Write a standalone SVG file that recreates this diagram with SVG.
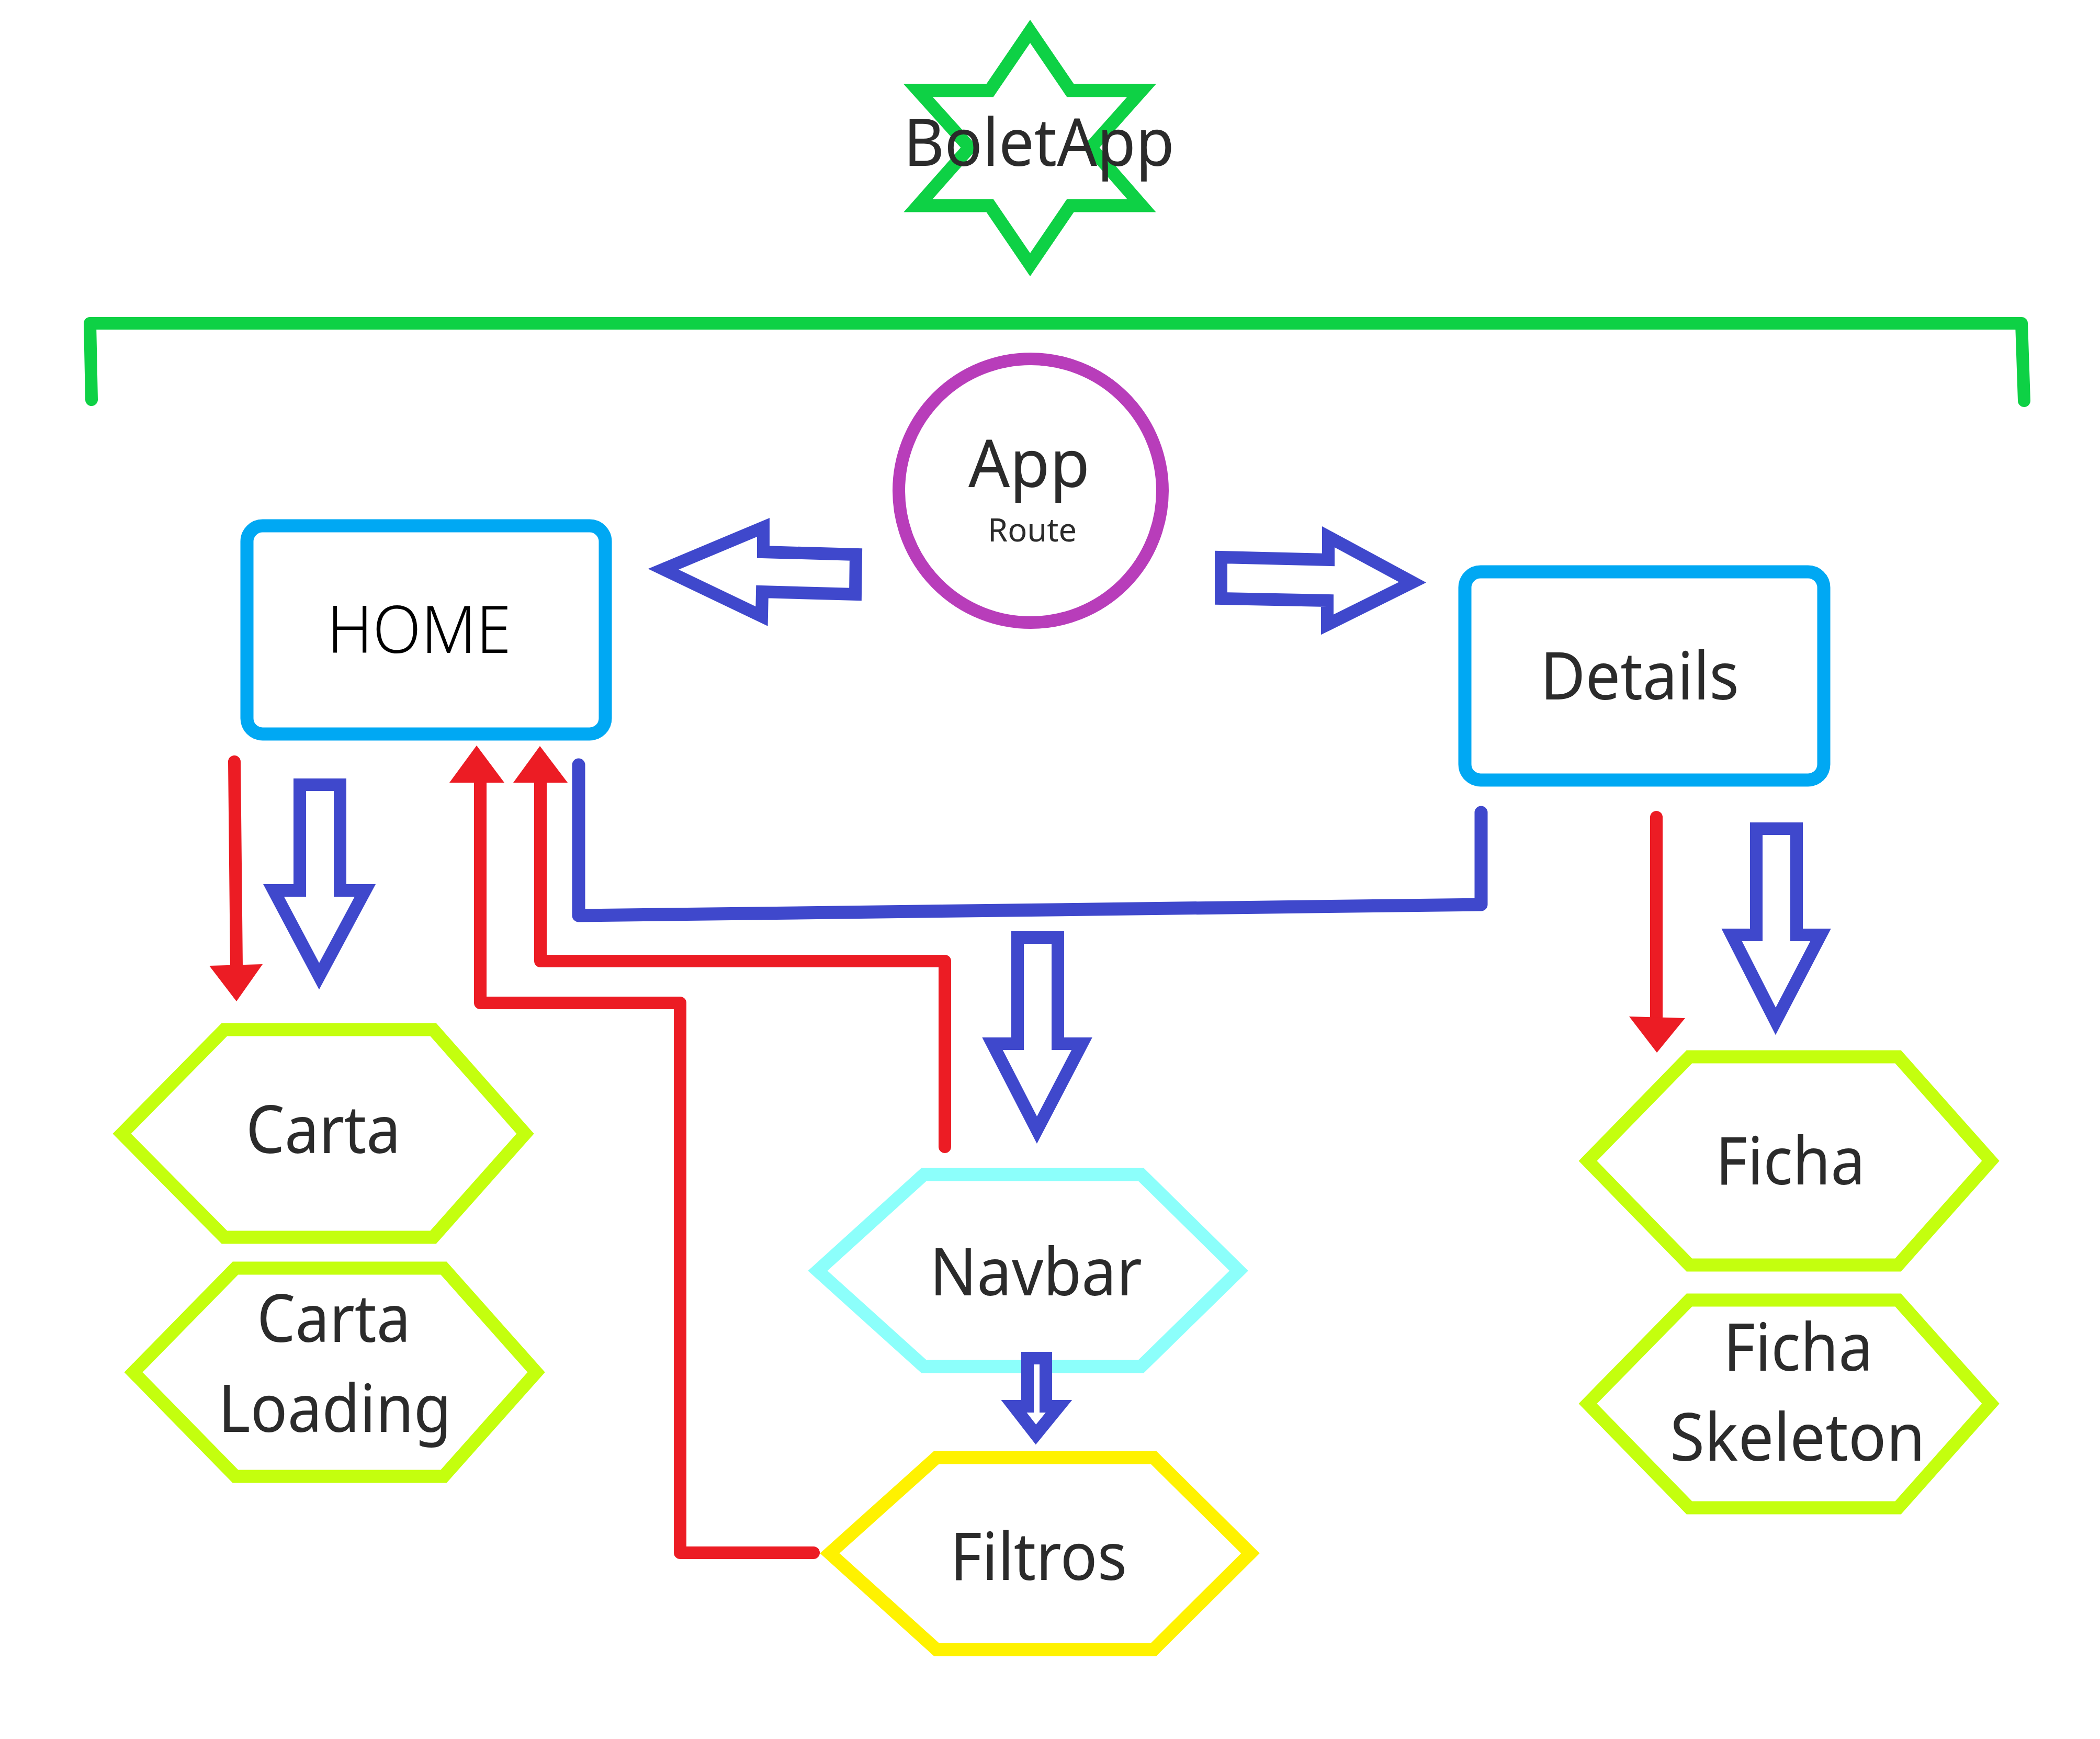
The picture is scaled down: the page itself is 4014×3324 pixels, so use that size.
<svg xmlns="http://www.w3.org/2000/svg" width="4014" height="3324" viewBox="0 0 4014 3324">
<style>
text{font-family:"Noto Sans","Open Sans","Liberation Sans",sans-serif;fill:#2b2b2b;text-anchor:middle}
.big{font-size:126px}
.small{font-size:62px}
.home{fill:#000;font-weight:300}
.box{fill:#fff;stroke:#00a8f3;stroke-width:25}
.hex{fill:#fff;stroke:#c4ff0e;stroke-width:25;stroke-linejoin:miter;stroke-miterlimit:10}
.blk{fill:#fff;stroke:#3f48cc;stroke-width:24;stroke-linejoin:miter;stroke-miterlimit:10}
.red{fill:none;stroke:#ec1c24;stroke-width:24;stroke-linejoin:round;stroke-linecap:round}
.redh{fill:#ec1c24}
.bline{fill:none;stroke:#3f48cc;stroke-width:25;stroke-linejoin:round;stroke-linecap:round}
</style>
<rect width="4014" height="3324" fill="#fff"/>

<g id="boletapp">
<polygon points="1969,60 2046,173 2182,173 2085,282 2182,393 2046,393 1969,506 1892,393 1755,393 1853,282 1755,173 1892,173" fill="#fff" stroke="#0ed145" stroke-width="25" stroke-miterlimit="10"/>
<text class="big" x="1986" y="317" font-size="128" textLength="518" lengthAdjust="spacingAndGlyphs">BoletApp</text>
</g>

<g id="bracket">
<path d="M175,764 L172,618 L3864,618 L3869,766" fill="none" stroke="#0ed145" stroke-width="24" stroke-linecap="round" stroke-linejoin="round"/>
</g>

<g id="app">
<circle cx="1970" cy="938" r="252" fill="#fff" stroke="#b83dba" stroke-width="24"/>
<text class="big" x="1967" y="931" textLength="232" lengthAdjust="spacingAndGlyphs">App</text>
<text class="small" x="1973" y="1035" textLength="170" lengthAdjust="spacingAndGlyphs">Route</text>
</g>

<g id="home">
<rect class="box" x="472" y="1005" width="685" height="398" rx="30"/>
<text class="big home" x="801" y="1248" font-size="122" textLength="352" lengthAdjust="spacingAndGlyphs">HOME</text>
</g>

<g id="details">
<rect class="box" x="2800" y="1093" width="686" height="398" rx="30"/>
<text class="big" x="3134" y="1337" textLength="380" lengthAdjust="spacingAndGlyphs">Details</text>
</g>

<g id="carta">
<polygon class="hex" points="233,2167 429,1968 828,1968 1004,2167 828,2365 429,2365"/>
<text class="big" x="618" y="2204" textLength="296" lengthAdjust="spacingAndGlyphs">Carta</text>
</g>

<g id="carta-loading">
<polygon class="hex" points="255,2623 450,2424 848,2424 1025,2623 848,2822 450,2822"/>
<text class="big" x="638" y="2565" textLength="294" lengthAdjust="spacingAndGlyphs">Carta</text>
<text class="big" x="640" y="2737" textLength="446" lengthAdjust="spacingAndGlyphs">Loading</text>
</g>

<g id="navbar">
<polygon class="hex" style="stroke:#8cfffb" points="1563,2429 1766,2245 2181,2245 2368,2429 2181,2612 1766,2612"/>
<text class="big" x="1980" y="2476" textLength="406" lengthAdjust="spacingAndGlyphs">Navbar</text>
</g>

<g id="filtros">
<polygon class="hex" style="stroke:#fff200" points="1586,2969 1790,2786 2205,2786 2390,2969 2205,3153 1790,3153"/>
<text class="big" x="1985" y="3020" textLength="338" lengthAdjust="spacingAndGlyphs">Filtros</text>
</g>

<g id="ficha">
<polygon class="hex" points="3035,2219 3229,2020 3628,2020 3805,2219 3628,2418 3229,2418"/>
<text class="big" x="3422" y="2264" textLength="286" lengthAdjust="spacingAndGlyphs">Ficha</text>
</g>

<g id="ficha-skeleton">
<polygon class="hex" points="3035,2683 3229,2485 3628,2485 3805,2683 3628,2882 3229,2882"/>
<text class="big" x="3437" y="2620" textLength="286" lengthAdjust="spacingAndGlyphs">Ficha</text>
<text class="big" x="3436" y="2792" textLength="488" lengthAdjust="spacingAndGlyphs">Skeleton</text>
</g>

<g id="connectors">
<polygon class="blk" points="1268,1088 1459,1008 1459,1055 1636,1060 1635,1136 1457,1131 1456,1178"/>
<polygon class="blk" points="2334,1065 2539,1070 2539,1026 2700,1113 2537,1194 2537,1148 2334,1144"/>
<polygon class="blk" points="573,1500 650,1500 650,1702 698,1702 610,1866 523,1702 573,1702"/>
<polygon class="blk" points="3357,1584 3434,1584 3434,1787 3480,1787 3394,1952 3310,1787 3357,1787"/>
<polygon class="blk" points="1945,1792 2022,1792 2022,1995 2068,1995 1982,2160 1897,1995 1945,1995"/>
<polygon class="blk" points="1964,2596 1999,2596 1999,2688 2024,2688 1980,2742 1938,2688 1964,2688"/>
<path class="bline" d="M1106,1462 V1750 L2831,1729 V1553"/>
<path class="red" d="M448,1456 L452,1846"/>
<polygon class="redh" points="400,1846 502,1843 452,1914"/>
<path class="red" d="M1555,2968 H1300 V1917 H918 V1494"/>
<polygon class="redh" points="911,1425 859,1496 964,1496"/>
<path class="red" d="M1806,2192 V1837 H1033 V1494"/>
<polygon class="redh" points="1032,1426 981,1496 1085,1496"/>
<path class="red" d="M3166,1562 V1944"/>
<polygon class="redh" points="3114,1943 3221,1946 3167,2012"/>
</g>
</svg>
